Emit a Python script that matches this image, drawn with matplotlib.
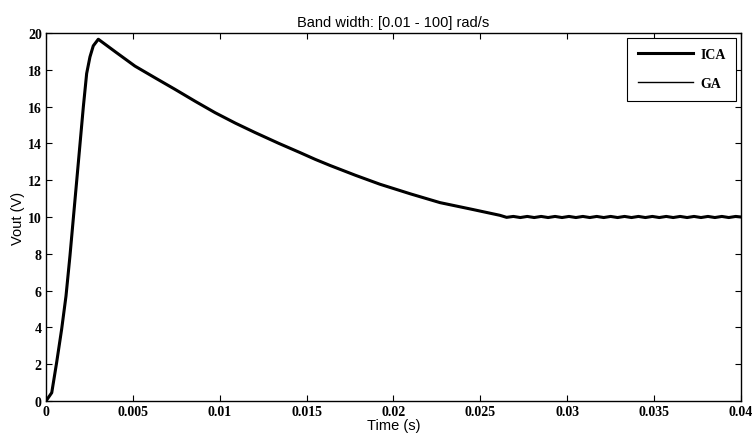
import matplotlib.pyplot as plt

# curve: time (s) and output voltage (V)
t_ica = [0, 0.00033, 0.00061, 0.0009, 0.00115, 0.00138, 0.00157, 0.00177, 0.00196,
         0.00215, 0.00234, 0.00253, 0.00272, 0.00301,
         0.004, 0.00512, 0.0063, 0.00742, 0.0086, 0.00973, 0.0109, 0.01203,
         0.0134, 0.01462, 0.0155, 0.01635, 0.0178, 0.01922, 0.021, 0.02268,
         0.0245, 0.02613, 0.02651,
         0.0269, 0.0273, 0.0277, 0.0281, 0.0285, 0.0289, 0.0293, 0.0297,
         0.0301, 0.0305, 0.0309, 0.0313, 0.0317, 0.0321, 0.0325, 0.0329,
         0.0333, 0.0337, 0.0341, 0.0345, 0.0349, 0.0353, 0.0357, 0.0361,
         0.0365, 0.0369, 0.0373, 0.0377, 0.0381, 0.0385, 0.0389, 0.0393,
         0.0397, 0.04]
v_ica = [0, 0.45, 2.08, 3.9, 5.7, 7.9, 9.9, 12.0, 14.0,
         16.0, 17.8, 18.7, 19.3, 19.66,
         18.97, 18.2, 17.55, 16.94, 16.28, 15.67, 15.1, 14.59,
         14.0, 13.5, 13.13, 12.8, 12.27, 11.78, 11.25, 10.78,
         10.42, 10.09, 9.98,
         10.03, 9.97, 10.03, 9.97, 10.03, 9.97, 10.03, 9.97,
         10.03, 9.97, 10.03, 9.97, 10.03, 9.97, 10.03, 9.97,
         10.03, 9.97, 10.03, 9.97, 10.03, 9.97, 10.03, 9.97,
         10.03, 9.97, 10.03, 9.97, 10.03, 9.97, 10.03, 9.97,
         10.03, 10.0]

# GA response lies on top of ICA
t_ga = list(t_ica)
v_ga = list(v_ica)

xticks = [0, 0.005, 0.01, 0.015, 0.02, 0.025, 0.03, 0.035, 0.04]
xlabels = ['0', '0.005', '0.01', '0.015', '0.02', '0.025', '0.03', '0.035', '0.04']
yticks = [0, 2, 4, 6, 8, 10, 12, 14, 16, 18, 20]

fig = plt.figure(figsize=(7.53, 4.39), dpi=100)
ax = fig.add_axes([0.0611, 0.0843, 0.9229, 0.8383])

ax.plot(t_ica, v_ica, color='black', lw=2.2, label='ICA')
ax.plot(t_ga, v_ga, color='black', lw=1.0, label='GA')

ax.set_xlim(0, 0.04)
ax.set_ylim(0, 20)
ax.set_xticks(xticks)
ax.set_xticklabels(xlabels)
ax.set_yticks(yticks)
ax.tick_params(direction='in', length=4, width=0.8, top=True, right=True, pad=3)
for lab in ax.get_xticklabels() + ax.get_yticklabels():
    lab.set_fontfamily('Liberation Serif')
    lab.set_fontweight('bold')
    lab.set_fontsize(10)
for s in ax.spines.values():
    s.set_linewidth(1.0)

ax.set_xlabel('Time (s)', fontfamily='Liberation Sans', fontsize=10.5, labelpad=0)
ax.set_ylabel('Vout (V)', fontfamily='Liberation Sans', fontsize=10.5, labelpad=2)
ax.set_title('Band width: [0.01 - 100] rad/s', fontfamily='Liberation Sans', fontsize=10.5, pad=5)

leg = ax.legend(loc='upper right', fancybox=False, edgecolor='black', framealpha=1,
                prop={'family': 'Liberation Serif', 'weight': 'bold', 'size': 10},
                handlelength=4.0, handletextpad=0.5, borderpad=0.75, labelspacing=1.15,
                borderaxespad=0.35)
leg.get_frame().set_linewidth(0.8)

fig.savefig('out.png', dpi=100)
